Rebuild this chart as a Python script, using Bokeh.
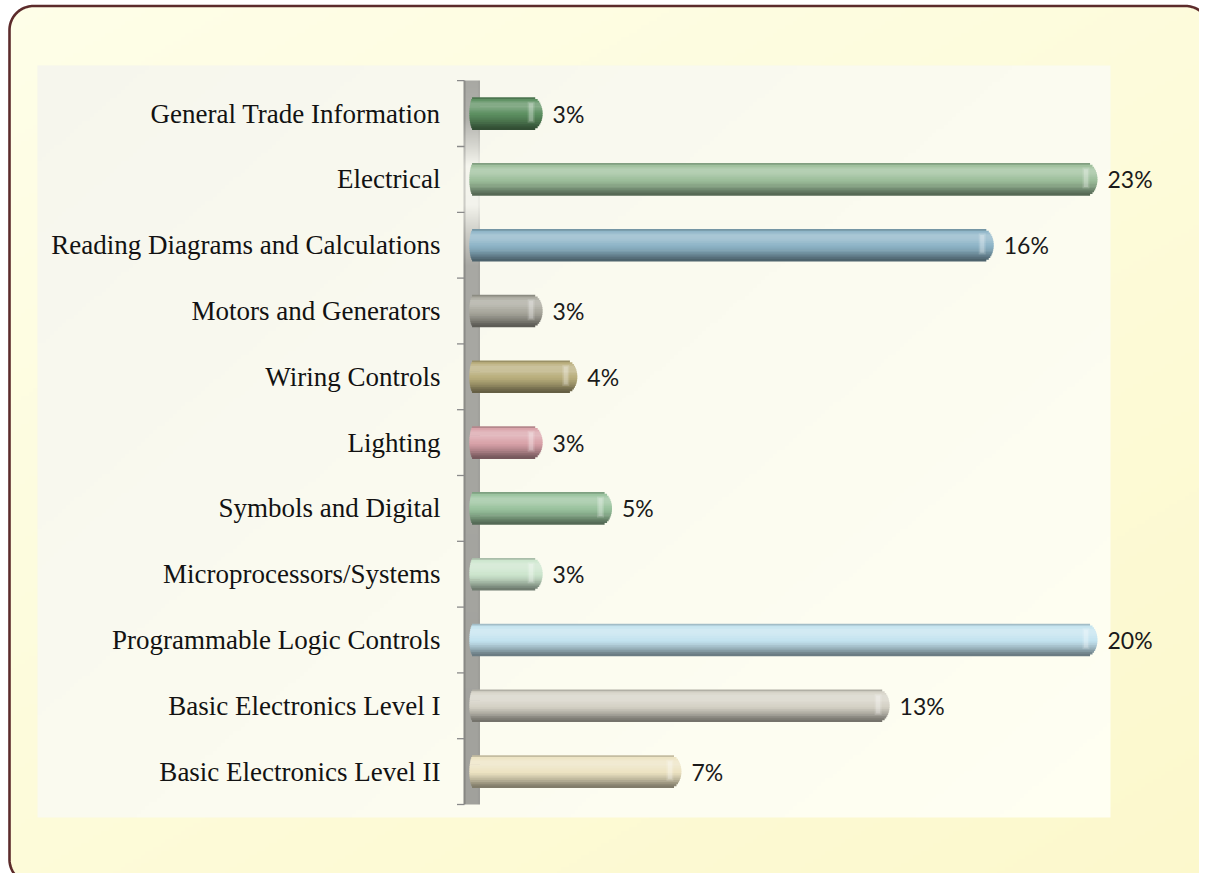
import numpy as np
from bokeh.plotting import figure
from bokeh.models import ColumnDataSource, Range1d
from bokeh.core.properties import value
from bokeh.embed import file_html
from bokeh.resources import INLINE

# ---------------- data ----------------
categories = [
    "General Trade Information",
    "Electrical",
    "Reading Diagrams and Calculations",
    "Motors and Generators",
    "Wiring Controls",
    "Lighting",
    "Symbols and Digital",
    "Microprocessors/Systems",
    "Programmable Logic Controls",
    "Basic Electronics Level I",
    "Basic Electronics Level II",
]
percent_values = [3, 23, 16, 3, 4, 3, 5, 3, 20, 13, 7]
percent_labels = [f"{v}%" for v in percent_values]
bar_colors = ["#5b8e5f", "#9dbf9b", "#8db4c7", "#a9a89d", "#b9ae7c", "#d9a2a9",
              "#99c29d", "#cce5cd", "#c3e3ef", "#d5d2c6", "#ece3c2"]
axis_min = 0.89   # value axis start (bars start here)
axis_max = 18.99  # value axis end (longer bars are clipped here)

# ---------------- layout ----------------
W, H = 1199, 873
X0_PX = 438.0        # pixel x of value 0
PX_PER_UNIT = 34.7
ROW_PX = 65.8
CAT_BOTTOM_PX = 804.0  # pixel y of the lower edge of the last category
n = len(categories)
cat_y = [n - 0.5 - i for i in range(n)]   # first category on top

def px_x(px):
    return (px - X0_PX) / PX_PER_UNIT

def px_y(py):
    return (CAT_BOTTOM_PX - py) / ROW_PX

def hex2rgb(h):
    h = h.lstrip("#")
    return np.array([int(h[i:i + 2], 16) for i in (0, 2, 4)], dtype=float)

def rgb2hex(c):
    c = np.clip(np.round(c), 0, 255).astype(int)
    return "#%02x%02x%02x" % tuple(c)

def shade(hexc, f):
    c = hex2rgb(hexc)
    if f >= 0:
        c = c + (255 - c) * f
    else:
        c = c * (1 + f)
    return rgb2hex(c)

def rgba_image(rgb):  # rgb: (h, w, 3) float, top row first
    h, w, _ = rgb.shape
    img = np.empty((h, w), dtype=np.uint32)
    v = img.view(dtype=np.uint8).reshape((h, w, 4))
    v[..., :3] = np.clip(np.round(rgb), 0, 255).astype(np.uint8)
    v[..., 3] = 255
    return np.flipud(img).copy()

p = figure(width=W, height=H,
           x_range=Range1d(px_x(0), px_x(W)),
           y_range=Range1d(px_y(H), px_y(0)),
           output_backend="svg", toolbar_location=None, min_border=0,
           x_axis_location=None, y_axis_location=None,
           background_fill_color="white", border_fill_color="white",
           outline_line_color=None)
p.grid.visible = False

# ---------------- outer rounded box with gradient ----------------
BL, BT, BR, BB, RAD = 9.0, 5.5, 1209.0, 883.0, 24.0
gw, gh = 300, 220
gx = np.linspace(0, 1, gw)[None, :]
gy = np.linspace(0, 1, gh)[:, None]
t = np.clip(0.45 * gx + 0.55 * gy, 0, 1)[..., None]
outer = hex2rgb("#fefee8") * (1 - t) + hex2rgb("#fcf8cc") * t
p.image_rgba(image=[rgba_image(outer)], x=px_x(BL), y=px_y(BB),
             dw=px_x(BR) - px_x(BL), dh=px_y(BT) - px_y(BB))

def arc(cx, cy, a0, a1, r=RAD, k=24):
    th = np.radians(np.linspace(a0, a1, k))
    return list(cx + r * np.cos(th)), list(cy - r * np.sin(th))

corner_defs = [(BL + RAD, BT + RAD, 180, 90, BL - 4, BT - 4),
               (BR - RAD, BT + RAD, 90, 0, BR + 4, BT - 4),
               (BR - RAD, BB - RAD, 360, 270, BR + 4, BB + 4),
               (BL + RAD, BB - RAD, 270, 180, BL - 4, BB + 4)]
for cx, cy, a0, a1, ox, oy in corner_defs:
    xs, ys = arc(cx, cy, a0, a1)
    p.patch([px_x(v) for v in xs + [ox]], [px_y(v) for v in ys + [oy]],
            fill_color="white", line_color=None)

bx, by = [], []
for cx, cy, a0, a1 in [(BL + RAD, BT + RAD, 180, 90), (BR - RAD, BT + RAD, 90, 0),
                       (BR - RAD, BB - RAD, 0, -90), (BL + RAD, BB - RAD, 270, 180)]:
    xs, ys = arc(cx, cy, a0, a1)
    bx += xs
    by += ys
bx.append(bx[0]); by.append(by[0])
p.line([px_x(v) for v in bx], [px_y(v) for v in by], line_color="#5c2b2b", line_width=2.6)

# ---------------- inner plot area ----------------
IL, IT, IR, IB = 37.0, 65.0, 1110.0, 817.0
iw, ih = 270, 190
ix = np.linspace(0, 1, iw)[None, :]
iy = np.linspace(0, 1, ih)[:, None]
ti = np.clip(0.55 * ix + 0.45 * iy, 0, 1)[..., None]
inner = hex2rgb("#f6f6ed") * (1 - ti) + hex2rgb("#fffff2") * ti
p.image_rgba(image=[rgba_image(inner)], x=px_x(IL), y=px_y(IB),
             dw=px_x(IR) - px_x(IL), dh=px_y(IT) - px_y(IB))

# ---------------- wall ----------------
WL, WR, WT, WB = 463.0, 479.5, 80.0, 804.0
wall_stops_y = [80, 118, 145, 165, 205, 232, 265, 804]
wall_stops_v = [168, 176, 214, 245, 243, 206, 168, 161]
rows = np.arange(int(WB - WT)) + WT + 0.5
gv = np.interp(rows, wall_stops_y, wall_stops_v)
ncol = int(WR - WL)
wall = np.zeros((len(rows), ncol, 3))
for j in range(ncol):
    fac = 0.84 if j < 2 else (0.97 if j > ncol - 3 else 1.0)
    wall[:, j, 0] = gv * fac
    wall[:, j, 1] = gv * fac
    wall[:, j, 2] = gv * fac * 0.97
p.image_rgba(image=[rgba_image(wall)], x=px_x(WL), y=px_y(WB),
             dw=px_x(WR) - px_x(WL), dh=px_y(WT) - px_y(WB))

# ticks at category boundaries
bounds = list(range(n + 1))
p.segment(x0=[px_x(456.5)] * len(bounds), x1=[px_x(464)] * len(bounds),
          y0=bounds, y1=bounds, line_color="#8a8a8a", line_width=1.3)

# ---------------- cylinder bars ----------------
disp_right = list(np.minimum(np.array(percent_values, dtype=float), axis_max))
BAR_H = 0.485
NS = 18
cap_r = 11.0 / PX_PER_UNIT
cap_l = 4.0 / PX_PER_UNIT
prof_s = [0.0, 0.07, 0.2, 0.33, 0.48, 0.62, 0.78, 0.9, 1.0]
prof_f = [-0.28, 0.0, 0.26, 0.22, 0.04, -0.06, -0.22, -0.38, -0.48]
strip_h = BAR_H / NS + 0.7 / ROW_PX
for k in range(NS):
    s = (k + 0.5) / NS
    tt = 2 * s - 1
    f = float(np.interp(s, prof_s, prof_f))
    inset = 1 - np.sqrt(max(0.0, 1 - tt * tt))
    src = ColumnDataSource(dict(
        y=[c + BAR_H * (0.5 - s) for c in cat_y],
        left=[axis_min + cap_l * inset] * n,
        right=[r - cap_r * inset for r in disp_right],
        color=[shade(c, f) for c in bar_colors],
    ))
    p.hbar(y="y", left="left", right="right", height=strip_h,
           fill_color="color", line_color=None, source=src)

# soft cap highlight streak
for w0, w1, hf, a in [(15.0, 8.0, 0.66, 0.16), (13.5, 9.5, 0.56, 0.22)]:
    streak = ColumnDataSource(dict(
        y=[c + 0.02 for c in cat_y],
        left=[r - w0 / PX_PER_UNIT for r in disp_right],
        right=[r - w1 / PX_PER_UNIT for r in disp_right],
    ))
    p.hbar(y="y", left="left", right="right", height=BAR_H * hf,
           fill_color="white", fill_alpha=a, line_color=None, source=streak)

# ---------------- labels ----------------
lab = ColumnDataSource(dict(y=cat_y, x=disp_right, text=percent_labels))
p.text(x="x", y="y", text="text", source=lab, x_offset=10,
       text_baseline="middle", text_align="left",
       text_font=value("Lato"), text_font_size="23px", text_color="#1a1a1a")

catsrc = ColumnDataSource(dict(y=cat_y, x=[px_x(440.0)] * n, text=categories))
p.text(x="x", y="y", text="text", source=catsrc,
       text_baseline="middle", text_align="right",
       text_font=value("Liberation Serif"), text_font_size="27px", text_color="#121212")

open("out.html", "w").write(file_html(p, INLINE))
